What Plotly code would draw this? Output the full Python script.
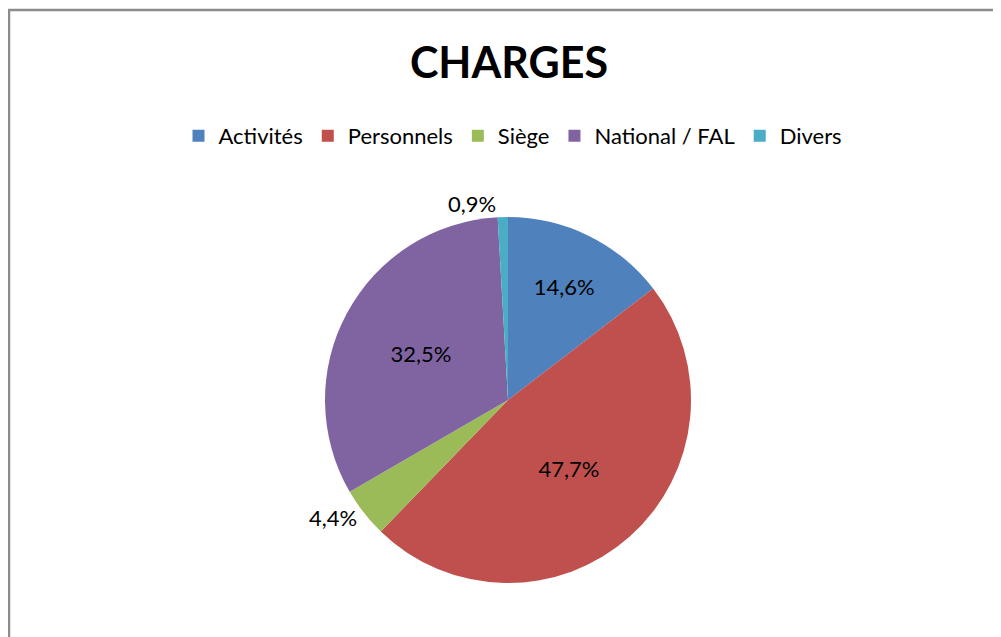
import plotly.graph_objects as go

categories = ["Activités", "Personnels", "Siège", "National / FAL", "Divers"]
values = [14.6, 47.7, 4.4, 32.5, 0.9]
colors = ["#4F81BD", "#C0504D", "#9BBB59", "#8064A2", "#4BACC6"]
text_positions = ["inside", "inside", "outside", "inside", "outside"]

W, H = 1001, 637
OFF = 8  # page body offset
cx, cy, r = 508 - OFF, 400 - OFF, 183

fig = go.Figure(go.Pie(
    labels=categories,
    values=values,
    sort=False,
    direction="clockwise",
    rotation=0,
    marker=dict(colors=colors, line=dict(width=0)),
    texttemplate="%{percent:.1%}",
    textposition=text_positions,
    insidetextorientation="horizontal",
    textfont=dict(family="Lato", size=22, color="#000000"),
    domain=dict(x=[(cx - r) / W, (cx + r) / W], y=[1 - (cy + r) / H, 1 - (cy - r) / H]),
    hoverinfo="label+percent",
))

fig.update_layout(
    width=W, height=H,
    margin=dict(l=0, r=0, t=0, b=0),
    paper_bgcolor="white",
    separators=", ",
    font=dict(family="Lato", color="#000000"),
    title=dict(text="<b>CHARGES</b>", x=(509 - OFF) / W, xanchor="center", y=1 - (63 - OFF) / H, yanchor="middle",
               font=dict(family="Lato", size=43, color="#000000")),
    legend=dict(orientation="h", x=(513 - OFF) / W, xanchor="center", y=1 - (136 - OFF) / H, yanchor="middle",
                font=dict(family="Lato", size=22, color="#000000"), traceorder="normal",
                itemclick=False),
    shapes=[dict(type="rect", xref="paper", yref="paper",
                 x0=(9 - OFF) / W, x1=1.05, y0=-0.05, y1=1 - (10 - OFF) / H,
                 line=dict(color="#8C8C8C", width=2.5), fillcolor="rgba(0,0,0,0)", layer="below")],
)

fig.write_html("out.html")
